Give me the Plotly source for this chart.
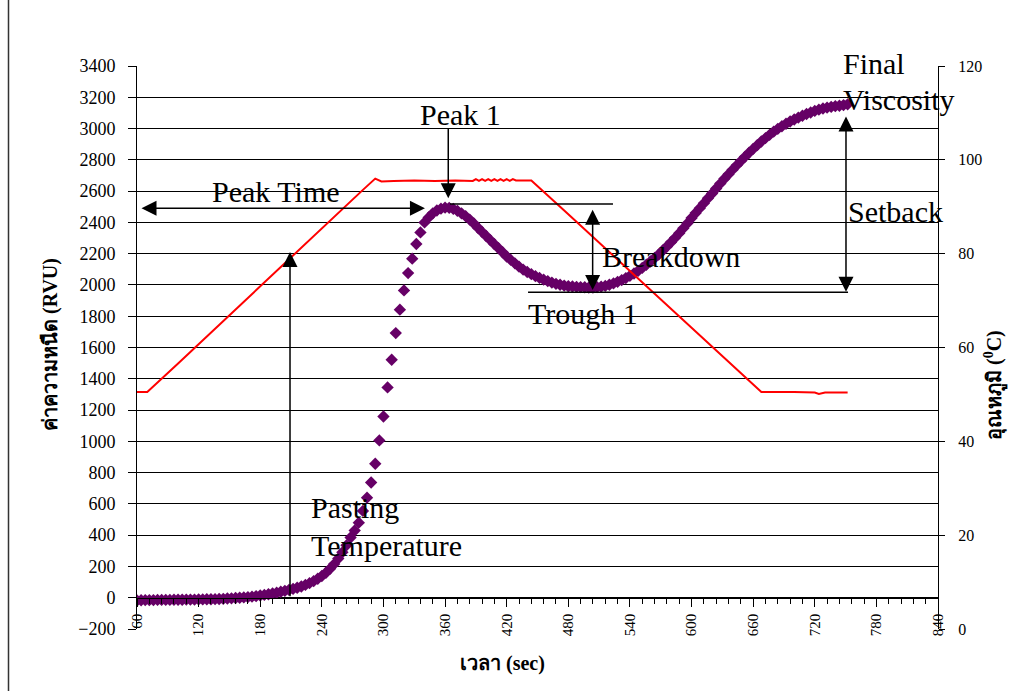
import plotly.graph_objects as go

# ---------------- data ----------------
visc_time = list(range(60, 753, 4))  # sampling every 4 s
viscosity = [
    -18, -16, -15, -15, -15, -14, -14, -14, -14, -13, -13, -13, -12, -12, -12, -11, -11, -10, -10, -9, -8,
    -7, -5, -4, -2, 0, 2, 4, 7, 10, 14,
    18, 22, 27, 32, 38, 44, 50, 57, 64, 72,
    82, 93, 106, 121, 139, 160, 185, 215, 250, 290,
    335, 385, 430, 480, 555, 640, 737, 857, 1006, 1159,
    1345, 1522, 1692, 1842, 1965, 2076, 2168, 2262, 2336, 2400,
    2432, 2458, 2476, 2488, 2494, 2493, 2486, 2474, 2458, 2440,
    2418, 2393, 2366, 2339, 2313, 2287, 2261, 2235, 2209, 2182,
    2160, 2138, 2117, 2098, 2083, 2069, 2056, 2045, 2034, 2024,
    2015, 2007, 2001, 1996, 1992, 1990, 1988, 1986, 1985, 1984,
    1984, 1986, 1989, 1994, 2001, 2010, 2020, 2031, 2044, 2058,
    2073, 2090, 2109, 2129, 2150, 2172, 2195, 2220, 2246, 2273,
    2301, 2331, 2362, 2394, 2428, 2460, 2491, 2522, 2554, 2585,
    2617, 2648, 2679, 2708, 2737, 2765, 2792, 2819, 2845, 2870,
    2894, 2917, 2939, 2960, 2980, 2998, 3015, 3031, 3045, 3058,
    3070, 3082, 3093, 3103, 3113, 3121, 3128, 3134, 3139, 3143,
    3146, 3150, 3155,
]

temp_time = [60, 70, 100, 130, 160, 190, 220, 250, 280, 292, 298, 310, 330, 350, 370,
             387, 390, 393, 396, 399, 402, 405, 408, 411, 414, 417, 420, 423, 426, 429,
             444, 480, 520, 560, 600, 640, 668, 700, 720, 724, 730, 752]
temperature = [50.5, 50.5, 56.6, 62.8, 69.0, 75.1, 81.3, 87.4, 93.6, 96.0, 95.4, 95.5, 95.6, 95.5, 95.6,
               95.5, 95.9, 95.5, 95.9, 95.5, 95.9, 95.5, 95.9, 95.5, 95.9, 95.5, 95.9, 95.5, 95.9, 95.6,
               95.6, 88.4, 80.3, 72.2, 64.2, 56.1, 50.5, 50.5, 50.4, 50.1, 50.4, 50.4]

x_ticks = list(range(60, 841, 60))
y_ticks = list(range(-200, 3401, 200))
y2_ticks = list(range(0, 121, 20))

SERIF = "Liberation Serif"
ANN_FONT = dict(family=SERIF, size=30, color="black")

fig = go.Figure()
fig.add_trace(go.Scatter(
    x=visc_time, y=viscosity, mode="markers", yaxis="y",
    marker=dict(symbol="diamond", size=9.5, color="#660066", line=dict(width=0)),
    showlegend=False, hoverinfo="skip"))
fig.add_trace(go.Scatter(
    x=temp_time, y=temperature, mode="lines", yaxis="y2",
    line=dict(color="#ff0000", width=2),
    showlegend=False, hoverinfo="skip"))

fig.update_layout(
    width=1024, height=691, autosize=False,
    margin=dict(l=137, r=86, t=66, b=62, pad=0),
    paper_bgcolor="white", plot_bgcolor="white",
    font=dict(family=SERIF, color="black"),
    xaxis=dict(range=[60, 840], tickmode="array", tickvals=x_ticks,
               ticktext=[str(v) for v in x_ticks], tickangle=-90,
               ticks="outside", ticklen=8, tickwidth=1, tickcolor="black",
               showline=True, linecolor="black", linewidth=1,
               showgrid=False, zeroline=False,
               anchor="free", position=200 / 3600,
               tickfont=dict(family=SERIF, size=15, color="black"),
               ticklabelstandoff=1,
               minor=dict(ticks="outside", ticklen=5, tickwidth=1, tickcolor="black",
                          tickmode="linear", tick0=60, dtick=12, showgrid=False)),
    yaxis=dict(range=[-200, 3400], tickmode="array", tickvals=y_ticks,
               ticks="outside", ticklen=8, tickcolor="black",
               showline=True, linecolor="black", linewidth=1,
               showgrid=True, gridcolor="black", gridwidth=1, zeroline=False,
               tickfont=dict(family=SERIF, size=18, color="black"),
               ticklabelstandoff=9),
    yaxis2=dict(range=[0, 120], tickmode="array", tickvals=y2_ticks,
                overlaying="y", side="right", anchor="x",
                ticks="outside", ticklen=6, tickcolor="black",
                showline=True, linecolor="black", linewidth=1,
                showgrid=False, zeroline=False,
                tickfont=dict(family=SERIF, size=16, color="black"),
                ticklabelstandoff=10),
)

# axis titles
fig.add_annotation(text="<b>ค่าความหนืด (RVU)</b>", xref="paper", yref="paper",
                   x=(50 - 137) / 801, y=(629 - 345) / 563, xanchor="center", yanchor="middle",
                   textangle=-90, showarrow=False,
                   font=dict(family=SERIF, size=20, color="black"))
fig.add_annotation(text="<b>อุณหภูมิ (<sup>0</sup>C)</b>", xref="paper", yref="paper",
                   x=(994 - 137) / 801, y=(629 - 385) / 563, xanchor="center", yanchor="middle",
                   textangle=-90, showarrow=False,
                   font=dict(family=SERIF, size=20, color="black"))
fig.add_annotation(text="<b>เวลา (sec)</b>", xref="paper", yref="paper",
                   x=(502 - 137) / 801, y=(629 - 663) / 563, xanchor="center", yanchor="middle",
                   showarrow=False,
                   font=dict(family=SERIF, size=20, color="black"))

# annotation texts
def txt(s, x, y, xanchor="center", yref="y"):
    fig.add_annotation(text=s, x=x, y=y, xref="x", yref=yref, showarrow=False,
                       xanchor=xanchor, yanchor="middle", font=ANN_FONT)

txt("Peak Time", 195, 2596)
txt("Peak 1", 375, 3087)
txt("Breakdown", 580, 2181)
txt("Trough 1", 494, 1819)
txt("Setback", 799, 2468)
txt("Final", 746, (629 - 63) / 563, "left", yref="paper")
txt("Viscosity", 746, 3183, "left")
txt("Pasting", 227, 574, "left")
txt("Temperature", 227, 337, "left")

# arrows
def arrow(x0, y0, x1, y1, both=False):
    fig.add_annotation(x=x1, y=y1, ax=x0, ay=y0, xref="x", yref="y", axref="x", ayref="y",
                       text="", showarrow=True, arrowhead=2, arrowsize=2, arrowwidth=1.5,
                       arrowcolor="black", arrowside="end+start" if both else "end",
                       startarrowhead=2, startarrowsize=2)

arrow(62.9, 2490, 340.4, 2490, both=True)      # Peak Time
arrow(363.1, 3012, 363.1, 2554)                 # Peak 1
arrow(503.7, 2490, 503.7, 1968, both=True)      # Breakdown
arrow(750.4, 3087, 750.4, 1957, both=True)      # Setback
arrow(209, 0, 209, 2211)                        # Pasting temperature

# reference lines
fig.add_shape(type="line", xref="x", yref="y", x0=364.8, x1=523.5, y0=2518, y1=2518,
              line=dict(color="black", width=1.5))
fig.add_shape(type="line", xref="x", yref="y", x0=440.8, x1=752.4, y0=1953, y1=1953,
              line=dict(color="black", width=1.5))

# outer frame (left edge)
fig.add_shape(type="line", xref="paper", yref="paper", x0=(8.5 - 137) / 801, x1=(8.5 - 137) / 801,
              y0=-0.2, y1=1.2, line=dict(color="#333333", width=1.5))

fig.write_html("out.html", config={"displayModeBar": False},
               post_script="document.body.style.margin='0';")
